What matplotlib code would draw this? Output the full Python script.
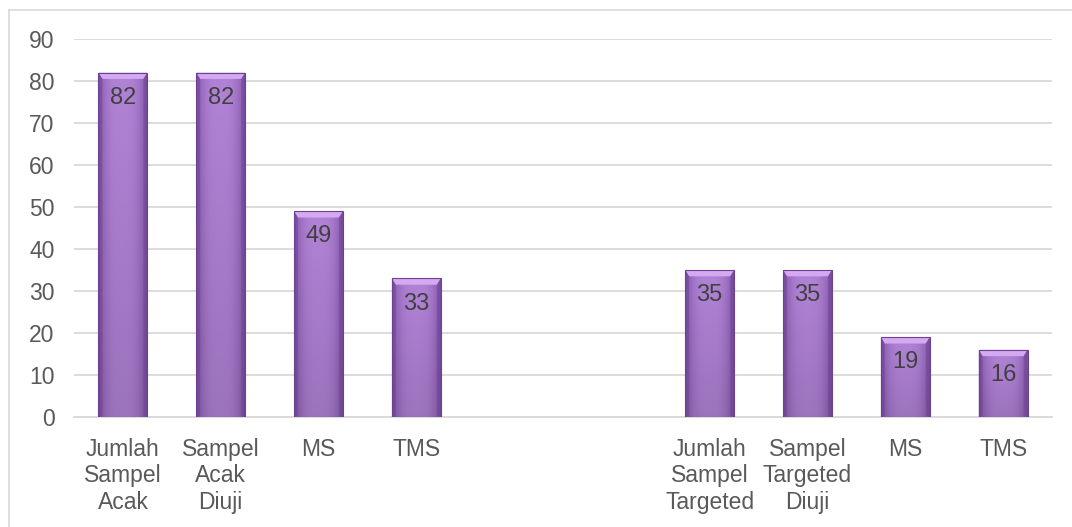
import matplotlib
matplotlib.use("Agg")
import matplotlib.pyplot as plt
import matplotlib.patches as patches
import numpy as np
from matplotlib.colors import to_rgb

plt.rcParams['font.family'] = ['Liberation Sans', 'DejaVu Sans']

# data: two groups separated by two empty slots
labels = ["Jumlah\nSampel\nAcak", "Sampel\nAcak\nDiuji", "MS", "TMS", "", "",
          "Jumlah\nSampel\nTargeted", "Sampel\nTargeted\nDiuji", "MS", "TMS"]
values = [82, 82, 49, 33, None, None, 35, 35, 19, 16]
y_ticks = [0, 10, 20, 30, 40, 50, 60, 70, 80, 90]

fig = plt.figure(figsize=(10.72, 5.27), dpi=100)
ax = fig.add_axes([74 / 1072, 1 - 417 / 527, (1052 - 74) / 1072, (417 - 39) / 527])

# outer chart border (top and left visible)
fig.add_artist(plt.Line2D([9 / 1072, 1.0], [1 - 10 / 527, 1 - 10 / 527],
                          color='#D9D9D9', lw=1.2, transform=fig.transFigure))
fig.add_artist(plt.Line2D([9 / 1072, 9 / 1072], [0, 1 - 10 / 527],
                          color='#D9D9D9', lw=1.2, transform=fig.transFigure))

width = 0.5
edge = np.array(to_rgb('#8152A8'))
mid = np.array(to_rgb('#B183D6'))

ax.set_xlim(-0.5, len(labels) - 0.5)
ax.set_ylim(0, 90)

for i, v in enumerate(values):
    if v is None:
        continue
    x0 = i - width / 2
    bar = ax.bar(i, v, width=width, color='none', edgecolor='none', zorder=3)[0]
    # body gradient: lighter in the middle, darker to the sides and bottom
    xs = np.linspace(-1, 1, 60)
    ys = np.linspace(0, 1, 60)
    h = 1 - np.abs(xs) ** 3
    img = np.zeros((60, 60, 3))
    for k in range(3):
        row = edge[k] + (mid[k] - edge[k]) * h
        img[:, :, k] = row[None, :] * (0.88 + 0.12 * ys[:, None])
    im = ax.imshow(np.clip(img, 0, 1), extent=[x0, x0 + width, 0, v], origin='lower',
                   aspect='auto', zorder=3, interpolation='bilinear')
    im.set_clip_path(bar)
    # bevel on top
    bh = 1.5
    bw = 0.04
    top = patches.Polygon([[x0, v], [x0 + width, v], [x0 + width - bw, v - bh], [x0 + bw, v - bh]],
                          closed=True, facecolor='#D4A9F2', edgecolor='none', zorder=4)
    ax.add_patch(top)
    for sx, sgn in [(x0, 1), (x0 + width, -1)]:
        side = patches.Polygon([[sx, v], [sx + sgn * bw, v - bh], [sx + sgn * bw, 0.4], [sx, 0]],
                               closed=True, facecolor='#6E4492', edgecolor='none', alpha=0.5, zorder=4)
        ax.add_patch(side)
    ax.add_patch(patches.Rectangle((x0, 0), width, v, fill=False, edgecolor='#6A4290',
                                   lw=0.8, zorder=5))
    ax.text(i, v - 6, str(v), ha='center', va='center', fontsize=17, color='#404040', zorder=6)

ax.set_xticks(range(len(labels)))
ax.set_xticklabels(labels, fontsize=16.5, color='#595959', linespacing=1.2)
ax.set_yticks(y_ticks)
ax.set_yticklabels([str(t) for t in y_ticks], fontsize=16.5, color='#595959')
ax.tick_params(axis='both', length=0)
ax.tick_params(axis='x', pad=15)
ax.tick_params(axis='y', pad=14)

ax.grid(True, axis='y', color='#D9D9D9', lw=1.3, zorder=0)
ax.set_axisbelow(True)
for s in ['top', 'right', 'left']:
    ax.spines[s].set_visible(False)
ax.spines['bottom'].set_color('#D9D9D9')
ax.spines['bottom'].set_linewidth(1.3)

fig.savefig("out.png", dpi=100)
